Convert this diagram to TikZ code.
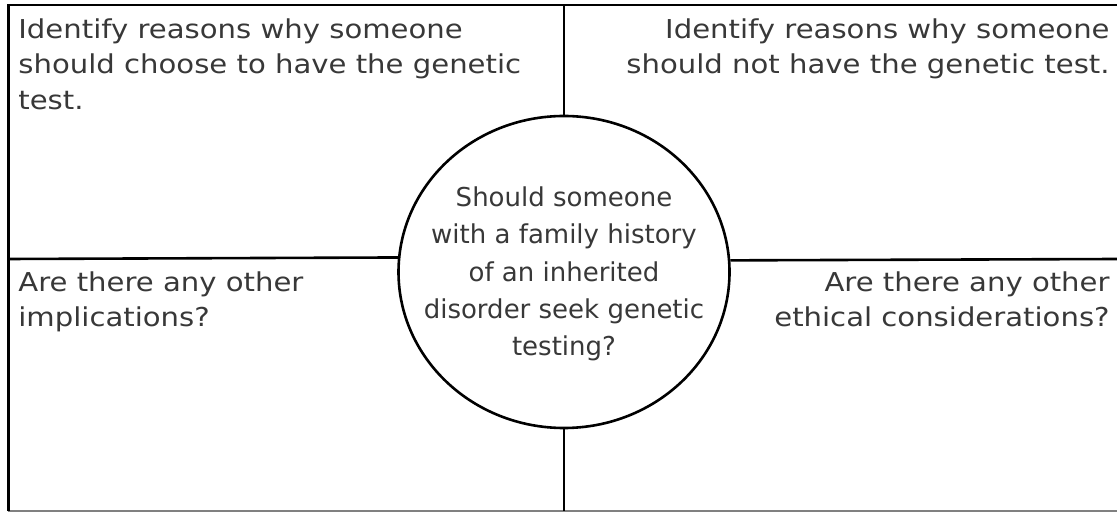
\documentclass[tikz,border=0pt]{standalone}
\usepackage{fontspec}
\setmainfont{DejaVu Sans}
\newfontfamily\cornerfont[FakeStretch=1.12]{DejaVu Sans}
\usetikzlibrary{shapes.geometric}
\definecolor{inkgray}{HTML}{383838}
\tikzset{
        qtext/.style={inner sep=0pt, text=inkgray, font=\cornerfont\fontsize{13}{17.8}\selectfont},
        frame/.style={line width=1.4pt, black},
}
\begin{document}
\begin{tikzpicture}[x=0.5pt, y=-0.5pt]

        \useasboundingbox (0,0) rectangle (1117,512);
        \draw[line width=1pt, gray] (8,510.5) -- (1117,510.5);
        \draw[frame] (8.5,511) -- (8.5,5) -- (1117,5);

        \node[draw, ellipse, line width=1.3pt, minimum width=331*0.5pt, minimum height=312*0.5pt, inner sep=0pt] (q) at (564,272) {};
        \node[qtext, align=center, font=\fontsize{13}{18.7}\selectfont] (qlabel) at (564,274) {Should someone\\with a family history\\of an inherited\\disorder seek genetic\\testing?};

        \coordinate (top) at (564,5);
        \coordinate (bottom) at (564,511);
        \coordinate (left) at (8.5,259);
        \coordinate (right) at (1117,259);
        \draw[line width=1.3pt] (top) -- (q.north);
        \draw[line width=1.3pt] (q.south) -- (bottom);
        \draw[line width=1.3pt] (left) -- (q.175.5);
        \draw[line width=1.3pt] (q.4.5) -- (right);

        \node[qtext, anchor=north west, align=left] (pro) at (18,18) {Identify reasons why someone\\should choose to have the genetic\\test.};
        \node[qtext, anchor=north east, align=right] (con) at (1110,18) {Identify reasons why someone\\should not have the genetic test.};
        \node[qtext, anchor=north west, align=left] (other) at (18,271) {Are there any other\\implications?};
        \node[qtext, anchor=north east, align=right] (ethic) at (1110,271) {Are there any other\\ethical considerations?};
    \end{tikzpicture}
\end{document}
